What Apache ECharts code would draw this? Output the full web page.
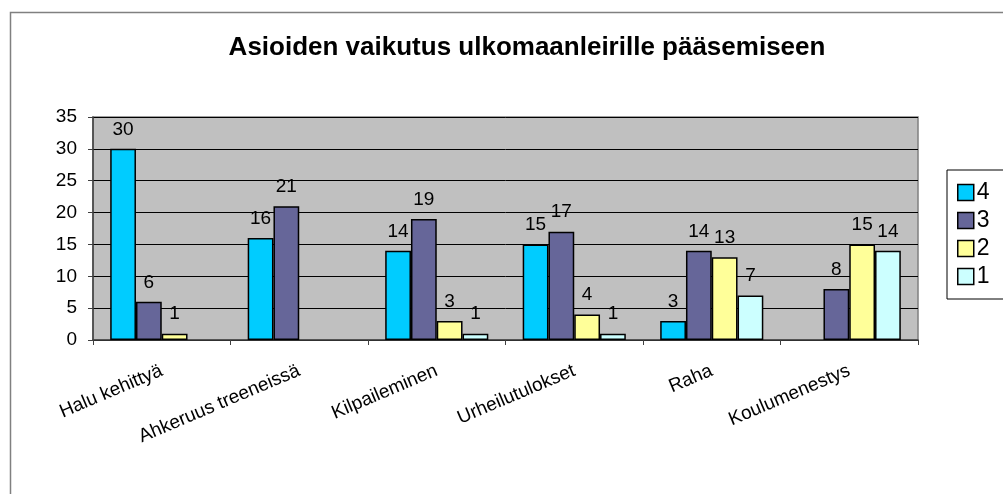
<!DOCTYPE html>
<html>
<head>
<meta charset="utf-8">
<script src="https://cdn.jsdelivr.net/npm/echarts@6/dist/echarts.min.js"></script>
<style>
html,body{margin:0;padding:0;background:#fff;}
#main{width:1003px;height:494px;}
</style>
</head>
<body>
<div id="main"></div>
<script>
var categories = ['Halu kehittyä', 'Ahkeruus treeneissä', 'Kilpaileminen', 'Urheilutulokset', 'Raha', 'Koulumenestys'];
var seriesNames = ['4', '3', '2', '1'];
var values4 = [30, 16, 14, 15, 3, '-'];
var values3 = [6, 21, 19, 17, 14, 8];
var values2 = [1, '-', 3, 4, 13, 15];
var values1 = ['-', '-', 1, 1, 7, 14];
var yTicks = [0, 5, 10, 15, 20, 25, 30, 35];

var colors = ['#00CCFF', '#666699', '#FFFF99', '#CCFFFF'];
var allValues = [values4, values3, values2, values1];

var myChart = echarts.init(document.getElementById('main'));

var series = [];
for (var i = 0; i < seriesNames.length; i++) {
    series.push({
        name: seriesNames[i],
        type: 'bar',
        data: allValues[i],
        barGap: '0%',
        barCategoryGap: '25%',
        itemStyle: {
            color: colors[i],
            borderColor: '#000',
            borderWidth: 1.5
        },
        label: {
            show: true,
            position: 'top',
            distance: 10,
            color: '#000',
            fontFamily: 'Liberation Sans',
            fontSize: 19
        }
    });
}

var option = {
    animation: false,
    title: {
        text: 'Asioiden vaikutus ulkomaanleirille pääsemiseen',
        left: 522,
        textAlign: 'center',
        top: 30,
        textStyle: {
            fontFamily: 'Liberation Sans',
            fontSize: 26,
            fontWeight: 'bold',
            color: '#000'
        }
    },
    // reunaviiva
    graphic: [{
        type: 'rect',
        shape: {x: 10.5, y: 12.5, width: 1010, height: 500},
        style: {fill: 'none', stroke: '#808080', lineWidth: 1.5},
        silent: true
    }],
    legend: {
        orient: 'vertical',
        left: 947,
        top: 170,
        data: seriesNames,
        itemWidth: 16,
        itemHeight: 16,
        itemGap: 5,
        padding: [11, 40, 11, 10],
        borderColor: '#000',
        borderWidth: 1,
        icon: 'rect',
        itemStyle: {borderColor: '#000', borderWidth: 1.5},
        textStyle: {
            fontFamily: 'Liberation Sans',
            fontSize: 23,
            lineHeight: 22,
            color: '#000',
            padding: [0, 0, 0, -2]
        }
    },
    grid: {
        left: 93,
        top: 117,
        width: 825,
        height: 223,
        show: true,
        backgroundColor: '#C0C0C0',
        borderColor: '#808080',
        borderWidth: 1.5
    },
    xAxis: {
        type: 'category',
        data: categories,
        axisLine: {lineStyle: {color: '#404040', width: 1.5}},
        axisTick: {show: true, length: 5, lineStyle: {color: '#404040'}},
        axisLabel: {
            interval: 0,
            rotate: 23,
            margin: 30,
            fontFamily: 'Liberation Sans',
            fontSize: 19,
            color: '#000'
        }
    },
    yAxis: {
        type: 'value',
        min: yTicks[0],
        max: yTicks[yTicks.length - 1],
        interval: yTicks[1] - yTicks[0],
        axisLine: {show: true, lineStyle: {color: '#404040', width: 1.5}},
        axisTick: {show: true, length: 5, lineStyle: {color: '#404040'}},
        axisLabel: {
            margin: 16,
            fontFamily: 'Liberation Sans',
            fontSize: 19,
            color: '#000'
        },
        splitLine: {lineStyle: {color: '#000', width: 1}}
    },
    series: series
};

myChart.setOption(option);
</script>
</body>
</html>
